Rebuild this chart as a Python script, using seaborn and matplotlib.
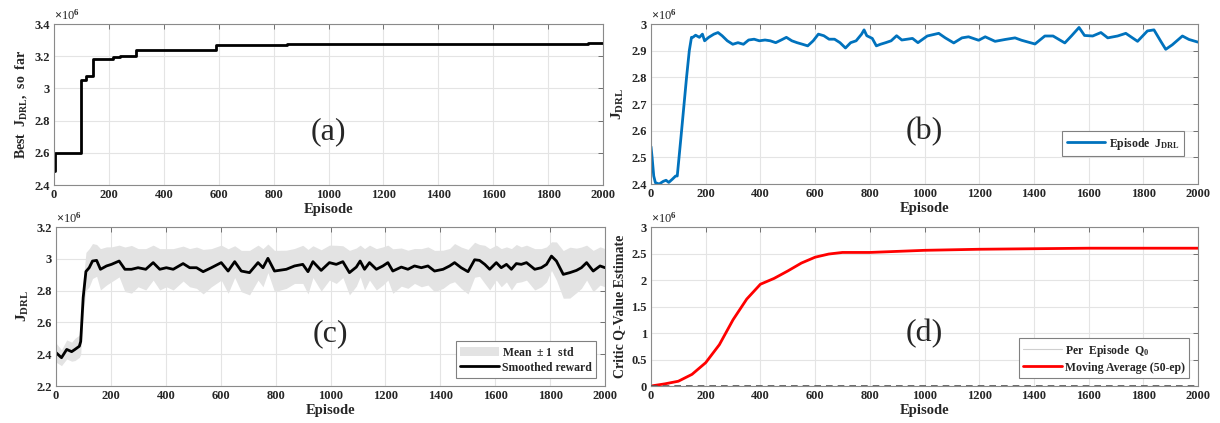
import numpy as np
import pandas as pd
import matplotlib
matplotlib.use("Agg")
import matplotlib.pyplot as plt
import seaborn as sns
from matplotlib.ticker import FuncFormatter

# ---- data (values in units of 1e6) ----
# (a) best reward so far, step changes
ep_a = [0, 3, 97, 115, 142, 215, 240, 300, 590, 850, 1945, 2000]
best_a = [2.49, 2.60, 3.053, 3.08, 3.185, 3.194, 3.204, 3.238, 3.268, 3.274, 3.282, 3.282]

# (b) episode reward
ep_b = [0, 4, 10, 16, 30, 45, 55, 65, 78, 90, 96, 110, 120, 130, 140, 148, 153, 163,
        177, 188, 196, 211, 230, 245, 260, 279, 299, 318, 338, 357, 377, 396, 417,
        436, 456, 476, 495, 515, 534, 554, 573, 593, 612, 632, 651, 671, 691, 711,
        730, 750, 770, 779, 789, 809, 824, 839, 858, 878, 898, 917, 937, 956, 976,
        1010, 1052, 1076, 1107, 1137, 1161, 1198, 1222, 1258, 1295, 1331, 1355, 1404,
        1440, 1470, 1513, 1537, 1565, 1585, 1615, 1645, 1670, 1706, 1736, 1779, 1815,
        1839, 1864, 1882, 1906, 1943, 1967, 2000]
j_b = [2.54, 2.50, 2.43, 2.405, 2.40, 2.41, 2.414, 2.406, 2.418, 2.43, 2.43, 2.58, 2.69,
       2.80, 2.90, 2.95, 2.95, 2.958, 2.95, 2.962, 2.937, 2.95, 2.962, 2.968, 2.956,
       2.937, 2.924, 2.93, 2.924, 2.94, 2.943, 2.937, 2.94, 2.937, 2.93, 2.94, 2.95,
       2.937, 2.93, 2.924, 2.918, 2.937, 2.962, 2.956, 2.943, 2.943, 2.93, 2.91, 2.93,
       2.937, 2.962, 2.978, 2.956, 2.946, 2.918, 2.924, 2.93, 2.937, 2.956, 2.94,
       2.943, 2.946, 2.93,
       2.955, 2.965, 2.948, 2.929, 2.948, 2.952, 2.939, 2.952, 2.935, 2.942, 2.948,
       2.939, 2.925, 2.955, 2.955, 2.929, 2.955, 2.987, 2.957, 2.955, 2.968, 2.948,
       2.955, 2.965, 2.935, 2.974, 2.978, 2.935, 2.905, 2.922, 2.955, 2.942, 2.932]

# (c) smoothed reward and its spread
ep_c = [0, 20, 39, 57, 69, 85, 90, 99, 109, 121, 133, 148, 162, 184, 202, 230, 251, 275,
        299, 327, 354, 378, 402, 427, 463, 487, 512, 536, 566, 602, 627, 651, 675, 705,
        736, 754, 772, 796, 839, 869, 899, 918, 936, 966, 996, 1021, 1045, 1069, 1094,
        1108, 1124, 1142, 1167, 1191, 1209, 1227, 1258, 1282, 1306, 1331, 1355, 1379,
        1410, 1434, 1452, 1476, 1501, 1525, 1543, 1562, 1580, 1604, 1622, 1641, 1659,
        1677, 1695, 1714, 1744, 1768, 1787, 1805, 1823, 1848, 1872, 1896, 1914, 1933,
        1957, 1982, 2000]
mean_c = [2.41, 2.378, 2.43, 2.416, 2.43, 2.45, 2.48, 2.756, 2.92, 2.944, 2.986, 2.99,
          2.934, 2.955, 2.965, 2.986, 2.934, 2.934, 2.944, 2.934, 2.976, 2.934, 2.944,
          2.934, 2.97, 2.944, 2.944, 2.919, 2.944, 2.976, 2.923, 2.982, 2.923, 2.913,
          2.976, 2.944, 3.003, 2.923, 2.934, 2.955, 2.965, 2.919, 2.982, 2.927, 2.976,
          2.965, 2.982, 2.913, 2.948, 2.986, 2.934, 2.976, 2.934, 2.955, 2.976, 2.923,
          2.948, 2.934, 2.955, 2.944, 2.955, 2.923, 2.934, 2.955, 2.976, 2.944, 2.919,
          2.994, 2.99, 2.965, 2.934, 2.976, 2.944, 2.965, 2.934, 2.97, 2.965, 2.976,
          2.934, 2.944, 2.965, 3.017, 2.986, 2.902, 2.913, 2.927, 2.944, 2.976, 2.923,
          2.955, 2.944]
std_c = [0.06, 0.05, 0.06, 0.06, 0.07, 0.07, 0.08, 0.10, 0.12, 0.12, 0.11, 0.10,
         0.13, 0.12, 0.11, 0.10, 0.14, 0.15, 0.12, 0.13, 0.11, 0.13, 0.12, 0.13,
         0.11, 0.12, 0.13, 0.14, 0.12, 0.11, 0.14, 0.10, 0.13, 0.14, 0.11, 0.12,
         0.09, 0.13, 0.12, 0.11, 0.12, 0.14, 0.10, 0.13, 0.11, 0.12, 0.10, 0.14,
         0.12, 0.10, 0.13, 0.11, 0.13, 0.12, 0.11, 0.14, 0.12, 0.12, 0.11, 0.12,
         0.12, 0.13, 0.12, 0.11, 0.12, 0.13, 0.14, 0.11, 0.10, 0.12, 0.13, 0.11,
         0.12, 0.11, 0.13, 0.12, 0.11, 0.11, 0.13, 0.12, 0.11, 0.09, 0.12, 0.15,
         0.16, 0.14, 0.13, 0.11, 0.13, 0.12, 0.12]

# (d) critic Q-value estimate
ep_d = [0, 25, 50, 100, 150, 200, 250, 300, 350, 400, 450, 500, 550, 600, 650, 700,
        750, 800, 900, 1000, 1200, 1400, 1600, 1800, 2000]
q_d = [0.0, 0.02, 0.04, 0.09, 0.22, 0.44, 0.78, 1.25, 1.64, 1.92, 2.03, 2.17, 2.32,
       2.43, 2.49, 2.52, 2.52, 2.52, 2.54, 2.56, 2.58, 2.59, 2.60, 2.60, 2.60]

# ---- style ----
sns.set_theme(style="whitegrid")
plt.rcParams['font.family'] = ['Liberation Serif', 'DejaVu Serif']
plt.rcParams['font.weight'] = 'bold'
plt.rcParams['mathtext.fontset'] = 'custom'
plt.rcParams['mathtext.rm'] = 'Liberation Serif'
plt.rcParams['mathtext.bf'] = 'Liberation Serif:bold'
plt.rcParams['mathtext.it'] = 'Liberation Serif:italic'

JDRL = r"$\mathbf{J}_{\mathbf{DRL}}$"
W, H = 1220, 423


def add_ax(fig, left, right, top, bottom):
    return fig.add_axes([left / W, 1 - bottom / H, (right - left) / W, (bottom - top) / H])


def style(ax, ylo, yhi, ystep, letter):
    ax.set_xlim(0, 2000)
    ax.set_xticks(np.arange(0, 2001, 200))
    ax.set_ylim(ylo, yhi)
    ax.set_yticks(np.arange(ylo, yhi + 1e-9, ystep))
    ax.yaxis.set_major_formatter(FuncFormatter(lambda v, p: f"{v:g}"))
    ax.tick_params(direction='in', top=True, right=True, length=3.5, width=0.7,
                   color='#707070', labelsize=9, pad=3)
    ax.grid(True, color='#e4e4e4', lw=0.8)
    for s in ax.spines.values():
        s.set_color('#8a8a8a')
        s.set_linewidth(0.8)
    ax.set_xlabel("Episode", fontsize=10.5, fontweight='bold', labelpad=1)
    ax.text(0, 1.01, r"$\times$10$^{6}$", transform=ax.transAxes, fontsize=9,
            fontweight='normal', ha='left', va='bottom')
    ax.text(0.5, 0.33, letter, transform=ax.transAxes, fontsize=23,
            fontweight='normal', ha='center', va='center')


def legend(ax, anchor):
    leg = ax.legend(loc='lower right', bbox_to_anchor=anchor, frameon=True, fancybox=False,
                    edgecolor='#808080', framealpha=1, handlelength=3.3,
                    prop={'weight': 'bold', 'size': 8.5}, borderpad=0.35,
                    labelspacing=0.25, handletextpad=0.3)
    leg.get_frame().set_linewidth(0.8)


fig = plt.figure(figsize=(12.2, 4.23), dpi=100)
ax_a = add_ax(fig, 54, 603, 24, 185)
ax_b = add_ax(fig, 651, 1198, 24, 184)
ax_c = add_ax(fig, 56, 605, 227, 386)
ax_d = add_ax(fig, 651, 1198, 227, 386)

# (a)
df_a = pd.DataFrame({"ep": ep_a, "best": best_a})
sns.lineplot(data=df_a, x="ep", y="best", ax=ax_a, color='black', lw=2,
             drawstyle='steps-post')
style(ax_a, 2.4, 3.4, 0.2, "(a)")
ax_a.set_ylabel(r"Best  " + JDRL + ",  so  far", fontsize=10, fontweight='bold')

# (b)
df_b = pd.DataFrame({"ep": ep_b, "j": j_b})
sns.lineplot(data=df_b, x="ep", y="j", ax=ax_b, color='#0072BD', lw=2,
             label="Episode  " + JDRL)
style(ax_b, 2.4, 3.0, 0.1, "(b)")
ax_b.set_ylabel(JDRL, fontsize=11)
legend(ax_b, (0.985, 0.14))

# (c)
mean = np.array(mean_c)
std = np.array(std_c)
ax_c.fill_between(ep_c, mean - std, mean + std, color='#e3e3e3', lw=0,
                  label=r"Mean  $\pm$ 1  std")
df_c = pd.DataFrame({"ep": ep_c, "m": mean_c})
sns.lineplot(data=df_c, x="ep", y="m", ax=ax_c, color='black', lw=2,
             label="Smoothed reward")
style(ax_c, 2.2, 3.2, 0.2, "(c)")
ax_c.set_ylabel(JDRL, fontsize=11)
legend(ax_c, (0.995, 0.015))

# (d)
df_d = pd.DataFrame({"ep": ep_d, "q": q_d})
sns.lineplot(data=df_d, x="ep", y="q", ax=ax_d, color='#cfcfcf', lw=0.8,
             label=r"Per  Episode  Q$_{\mathbf{0}}$")
sns.lineplot(data=df_d, x="ep", y="q", ax=ax_d, color='red', lw=2,
             label="Moving Average (50-ep)")
ax_d.axhline(0, color='#555555', lw=1.2, ls=(0, (4, 3)), zorder=3)
style(ax_d, 0, 3.0, 0.5, "(d)")
ax_d.set_ylabel("Critic Q-Value Estimate", fontsize=10, fontweight='bold')
legend(ax_d, (0.995, 0.015))

fig.savefig("out.png", dpi=100)
